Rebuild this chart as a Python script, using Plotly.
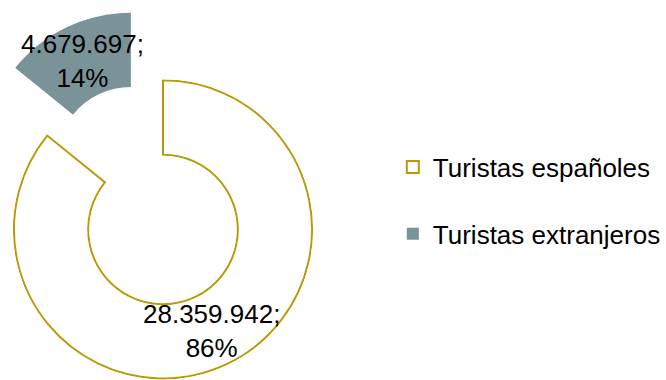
import math
import plotly.graph_objects as go

# Visitors by origin
labels = ["Turistas españoles", "Turistas extranjeros"]
visitors = [28359942, 4679697]
fill_colors = ["#ffffff", "#7a9398"]
line_colors = ["#bb9806", "#7a9398"]
line_widths = [2, 0]

W, H = 666, 380

total = sum(visitors)
shares = [v / total for v in visitors]
spans = [s * 360.0 for s in shares]          # angular width of each slice
starts = [sum(spans[:i]) for i in range(len(spans))]
mids = [a + w / 2 for a, w in zip(starts, spans)]

# Ring geometry (pixels)
CX, CY = 163.5, 229.5
R_OUT, R_IN = 149.5, 75.0
PAD = 1.2                       # keeps the outline clear of the frame clip
PULL = 0.5                      # detached slice offset, fraction of outer radius
FRAME = R_OUT + PAD
HOLE = (R_IN - PAD) / FRAME
UNIT = R_OUT - R_IN
RRANGE = [-PAD / UNIT, 1 + PAD / UNIT]


def sector_bbox(a0, a1):
    """Bounding box of a polar sector (unit radius, includes the origin)."""
    pts = [(0.0, 0.0)]
    for a in (a0, a1):
        pts.append((math.cos(math.radians(a)), math.sin(math.radians(a))))
    for q in range(-360, 811, 90):
        if a0 < q < a1:
            pts.append((math.cos(math.radians(q)), math.sin(math.radians(q))))
    xs = [p[0] for p in pts]
    ys = [p[1] for p in pts]
    return min(xs), min(ys), max(xs), max(ys)


def domain_for(cx, cy, bbox):
    bx0, by0, bx1, by1 = bbox
    x0 = (cx + FRAME * bx0) / W
    x1 = (cx + FRAME * bx1) / W
    y0 = 1 - (cy - FRAME * by0) / H
    y1 = 1 - (cy - FRAME * by1) / H
    clip = lambda v: min(1.0, max(0.0, v))
    return dict(x=[clip(x0), clip(x1)], y=[clip(y0), clip(y1)])


def screen_dir(theta_deg):
    """Unit vector on screen (x right, y down) for a clockwise-from-top angle."""
    t = math.radians(theta_deg)
    return math.sin(t), -math.cos(t)


# Centre of each slice: the second one is pulled out along its bisector
centres = [(CX, CY)]
dx, dy = screen_dir(mids[1])
centres.append((CX + PULL * R_OUT * dx, CY + PULL * R_OUT * dy))

# Polar frames: full ring for the first slice, own sector for the detached one
sec_lo = 450 - (starts[1] + spans[1])
sec_hi = 450 - starts[1]
domains = [
    domain_for(*centres[0], (-1, -1, 1, 1)),
    domain_for(*centres[1], sector_bbox(sec_lo, sec_hi)),
]
sectors = [[0, 360], [sec_lo, sec_hi]]

fig = go.Figure()
subplots = ["polar", "polar2"]
for i, lab in enumerate(labels):
    fig.add_trace(go.Barpolar(
        name=lab,
        r=[1],
        base=[0],
        theta=[mids[i]],
        width=[spans[i]],
        marker=dict(color=fill_colors[i],
                    line=dict(color=line_colors[i], width=line_widths[i])),
        subplot=subplots[i],
        legendgroup=lab,
        hoverinfo="name",
    ))

axis_off = dict(visible=False, showgrid=False, showline=False,
                showticklabels=False, ticks="")
for i, sp in enumerate(subplots):
    fig.layout[sp] = dict(
        domain=domains[i],
        sector=sectors[i],
        hole=HOLE,
        bgcolor="rgba(0,0,0,0)",
        radialaxis=dict(range=RRANGE, **axis_off),
        angularaxis=dict(rotation=90, direction="clockwise", **axis_off),
    )


def fmt_int(v):
    return f"{v:,}".replace(",", ".")


# Value labels at the middle of each ring segment
R_MID = (R_OUT + R_IN) / 2
for i, v in enumerate(visitors):
    ux, uy = screen_dir(mids[i])
    px = centres[i][0] + R_MID * ux
    py = centres[i][1] + R_MID * uy
    fig.add_annotation(
        x=px / W, y=1 - py / H, xref="paper", yref="paper",
        text=f"{fmt_int(v)};<br>{round(shares[i] * 100)}%",
        showarrow=False, xanchor="center", yanchor="middle",
        font=dict(size=26, color="#000000"),
    )

fig.update_layout(
    width=W, height=H,
    margin=dict(l=0, r=0, t=0, b=0),
    paper_bgcolor="#ffffff",
    plot_bgcolor="#ffffff",
    font=dict(family="Liberation Sans, Arial, sans-serif", size=26, color="#000000"),
    showlegend=True,
    legend=dict(
        x=394 / W, xanchor="left",
        y=1 - 200.5 / H, yanchor="middle",
        font=dict(size=26),
        tracegroupgap=30,
        bgcolor="rgba(0,0,0,0)",
        itemclick=False, itemdoubleclick=False,
    ),
)

fig.write_html("out.html")
